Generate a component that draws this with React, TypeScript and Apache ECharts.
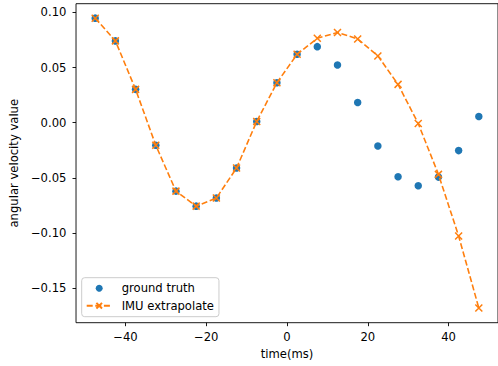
import React, { useEffect, useRef } from "react";
import * as echarts from "echarts";

const times = [-47.5, -42.5, -37.5, -32.5, -27.5, -22.5, -17.5, -12.5, -7.5, -2.5, 2.5, 7.5, 12.5, 17.5, 22.5, 27.5, 32.5, 37.5, 42.5, 47.5];
const groundTruth = [0.0947, 0.0741, 0.0302, -0.0205, -0.062, -0.0756, -0.0683, -0.0411, 0.0011, 0.0362, 0.062, 0.0689, 0.0523, 0.0183, -0.0211, -0.0489, -0.0571, -0.0493, -0.0253, 0.0056];
const imuExtrapolate = [0.0947, 0.0741, 0.0302, -0.0205, -0.062, -0.0756, -0.0683, -0.0411, 0.0011, 0.0362, 0.062, 0.0765, 0.0817, 0.0759, 0.0605, 0.0347, -0.0008, -0.0468, -0.1026, -0.1679];
const xTicks = [-40, -20, 0, 20, 40];
const yTicks = [-0.15, -0.1, -0.05, 0, 0.05, 0.1];

const FONT = "DejaVu Sans";
const FS = 11.6;
const BLUE = "#1f77b4";
const ORANGE = "#ff7f0e";

const minus = (s: string) => s.replace("-", "\u2212");

export default function App() {
  const ref = useRef<HTMLDivElement>(null);
  useEffect(() => {
    if (!ref.current) return;
    const chart = echarts.init(ref.current, null, { renderer: "svg" });
    chart.setOption({
      animation: false,
      backgroundColor: "#fff",
      grid: {
        left: 75.3,
        top: 3.7,
        width: 427.6,
        height: 319,
        show: true,
        borderColor: "#000",
        borderWidth: 0.9,
        containLabel: false,
      },
      legend: {
        left: 81.7,
        top: 277.7,
        orient: "vertical",
        itemWidth: 25,
        itemHeight: 7,
        itemGap: 5.5,
        padding: [4.5, 5, 5, 4],
        borderColor: "#cccccc",
        borderWidth: 1,
        borderRadius: 3,
        backgroundColor: "rgba(255,255,255,0.8)",
        textStyle: { fontFamily: FONT, fontSize: FS, color: "#000", padding: [0, 0, 0, 5] },
        data: ["ground truth", "IMU extrapolate"],
      },
      xAxis: {
        type: "value",
        min: -52.25,
        max: 52.25,
        name: "time(ms)",
        nameLocation: "middle",
        nameGap: 21,
        nameTextStyle: { fontFamily: FONT, fontSize: FS, color: "#000" },
        axisLine: { show: false, onZero: false },
        splitLine: { show: false },
        axisTick: { show: true, inside: false, length: 3.5, customValues: xTicks, lineStyle: { color: "#000", width: 0.9 } },
        axisLabel: {
          customValues: xTicks,
          margin: 8,
          fontFamily: FONT,
          fontSize: FS,
          color: "#000",
          formatter: (v: number) => minus(String(v)),
        },
      },
      yAxis: {
        type: "value",
        min: -0.1812,
        max: 0.1078,
        name: "angular velocity value",
        nameLocation: "middle",
        nameGap: 47.5,
        nameTextStyle: { fontFamily: FONT, fontSize: FS, color: "#000" },
        axisLine: { show: false, onZero: false },
        splitLine: { show: false },
        axisTick: { show: true, inside: false, length: 3.5, customValues: yTicks, lineStyle: { color: "#000", width: 0.9 } },
        axisLabel: {
          customValues: yTicks,
          margin: 9.6,
          fontFamily: FONT,
          fontSize: FS,
          color: "#000",
          formatter: (v: number) => minus(v.toFixed(2)),
        },
      },
      series: [
        {
          name: "ground truth",
          type: "scatter",
          symbol: "circle",
          symbolSize: 7.5,
          itemStyle: { color: BLUE, opacity: 1 },
          data: times.map((t, i) => [t, groundTruth[i]]),
          z: 2,
        },
        {
          name: "IMU extrapolate",
          type: "line",
          symbol: "path://M0,0L10,10M10,0L0,10",
          symbolSize: 7,
          showSymbol: true,
          showAllSymbol: true,
          itemStyle: { color: ORANGE, borderColor: ORANGE, borderWidth: 1.5 },
          lineStyle: { color: ORANGE, width: 1.6, type: [6, 2.6] },
          data: times.map((t, i) => [t, imuExtrapolate[i]]),
          z: 3,
        },
      ],
    });
    return () => chart.dispose();
  }, []);
  return (
    <div
      ref={ref}
      style={{ position: "fixed", left: 0, top: 0, width: 498, height: 366 }}
    />
  );
}
